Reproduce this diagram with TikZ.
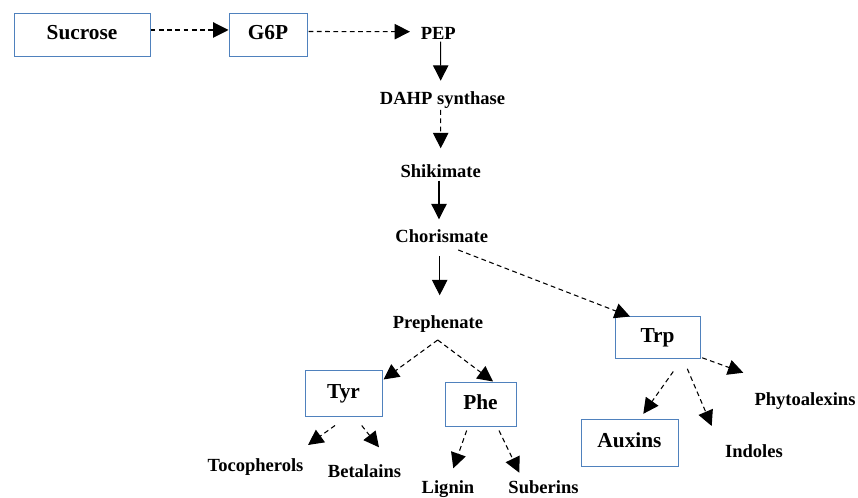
\documentclass[tikz,border=0pt]{standalone}
\usepackage{fontspec}
\setmainfont{Liberation Serif}
\usetikzlibrary{arrows.meta}
\definecolor{boxblue}{RGB}{79,129,189}
\tikzset{
  box/.style={draw=boxblue, line width=0.75pt, inner sep=0pt,
    font=\fontsize{16}{19}\selectfont\bfseries, text height=0.66em, text depth=0pt},
  lbl/.style={inner sep=0pt, anchor=base, font=\fontsize{13.9}{16}\selectfont\bfseries},
  solidarrow/.style={line width=0.8pt, -{Triangle[length=11.5pt,width=11.5pt]}},
  dasharrow/.style={solidarrow, dash pattern=on 3.6pt off 2.6pt},
}

\begin{document}
\begin{tikzpicture}[x=0.75pt,y=-0.75pt]
        \useasboundingbox (0,0) rectangle (858,498);
        % boxed nodes
        \node[box, minimum width=102pt, minimum height=32.25pt] (sucrose) at (82, 35.5) {Sucrose};
        \node[box, minimum width=58.5pt, minimum height=32.25pt] (g6p) at (268, 35.5) {G6P};
        \node[box, minimum width=57.75pt, minimum height=34.5pt] (tyr) at (343.5, 394) {Tyr};
        \node[box, minimum width=53.25pt, minimum height=33pt] (phe) at (480.5, 405) {Phe};
        \node[box, minimum width=63.75pt, minimum height=31.5pt] (trp) at (657.5, 338) {Trp};
        \node[box, minimum width=72.75pt, minimum height=35.25pt] (auxins) at (629.5, 443.5) {Auxins};
        % plain labels
        \node[lbl] (pep) at (438.3, 39.3) {PEP};
        \node[lbl] (dahp) at (442.5, 105) {DAHP synthase};
        \node[lbl] (shik) at (440.7, 178) {Shikimate};
        \node[lbl] (chor) at (441.8, 243) {Chorismate};
        \node[lbl] (preph) at (438, 329) {Prephenate};
        \node[lbl] (toco) at (255.5, 472) {Tocopherols};
        \node[lbl] (beta) at (364.5, 478) {Betalains};
        \node[lbl] (lignin) at (448, 494) {Lignin};
        \node[lbl] (suber) at (543.5, 494) {Suberins};
        \node[lbl] (phyto) at (805, 406) {Phytoalexins};
        \node[lbl] (indoles) at (754, 457.7) {Indoles};
        % main pathway
        \draw[dasharrow] ([shift={(0,-5.5)}]sucrose.east) -- ([shift={(0,-5.5)}]g6p.west);
        \draw[dasharrow] ([shift={(1,-4)}]g6p.east) -- ([shift={(-28.3,-7.6)}]pep.base);
        \draw[solidarrow] ([shift={(2.4,2.4)}]pep.base) -- ([shift={(-1.8,-24.3)}]dahp.base);
        \draw[dasharrow] ([shift={(-1.8,5)}]dahp.base) -- ([shift={(0,-29.7)}]shik.base);
        \draw[solidarrow] ([shift={(-1.7,2.7)}]shik.base) -- ([shift={(-2.8,-23.7)}]chor.base);
        \draw[solidarrow] ([shift={(-2.1,13)}]chor.base) -- ([shift={(1.7,-33.7)}]preph.base);
        \draw[dasharrow] ([shift={(16.5,7)}]chor.base) -- ([shift={(-27.5,0)}]trp.north);
        % branches
        \draw[dasharrow] ([shift={(-0.3,11)}]preph.base) -- ([shift={(1,9)}]tyr.north east);
        \draw[dasharrow] ([shift={(-0.3,11)}]preph.base) -- ([shift={(12.5,-1)}]phe.north);
        \draw[dasharrow] ([shift={(-8.5,8)}]tyr.south) -- ([shift={(52.5,-27)}]toco.base);
        \draw[dasharrow] ([shift={(18.2,8)}]tyr.south) -- ([shift={(14.5,-30.7)}]beta.base);
        \draw[dasharrow] ([shift={(-13.8,3)}]phe.south) -- ([shift={(5.3,-25.7)}]lignin.base);
        \draw[dasharrow] ([shift={(18.5,3)}]phe.south) -- ([shift={(-24.2,-21.3)}]suber.base);
        \draw[dasharrow] ([shift={(1.7,-1.7)}]trp.south east) -- ([shift={(-61.7,-33.3)}]phyto.base);
        \draw[dasharrow] ([shift={(15.8,12)}]trp.south) -- ([shift={(13.8,-5.7)}]auxins.north);
        \draw[dasharrow] ([shift={(29.8,9.3)}]trp.south) -- ([shift={(-42.3,-31.7)}]indoles.base);
    \end{tikzpicture}
\end{document}
